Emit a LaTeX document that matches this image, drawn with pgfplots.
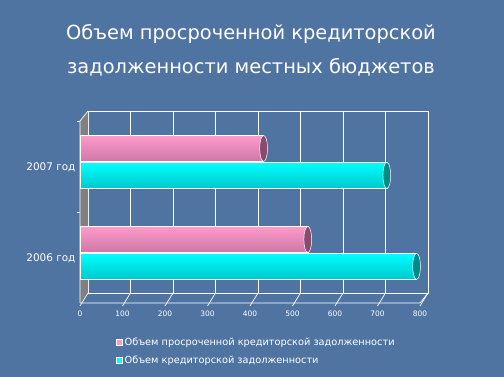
\documentclass[border=0pt]{standalone}
\usepackage{fontspec}
\setmainfont{DejaVu Sans}
\usepackage{pgfplots}
\pgfplotsset{compat=1.18}
\definecolor{bg}{HTML}{5074A2}
\definecolor{pinkT}{HTML}{FF9ACC}
\definecolor{pinkB}{HTML}{CC78A6}
\definecolor{pinkcap}{HTML}{8A4A6E}
\definecolor{cyanT}{HTML}{00FFFF}
\definecolor{cyanB}{HTML}{00C8CC}
\definecolor{cyancap}{HTML}{008A8A}
\pgfplotsset{
  pinkbar/.style={xbar, bar width=26bp, bar shift=13.5bp, draw=white, line width=0.5pt,
    top color=pinkT, bottom color=pinkB, forget plot},
  cyanbar/.style={xbar, bar width=26bp, bar shift=-13.5bp, draw=white, line width=0.5pt,
    top color=cyanT, bottom color=cyanB, forget plot}}
\begin{document}
\begin{tikzpicture}
\fill[bg] (0bp,0bp) rectangle (504bp,377bp);
\useasboundingbox (0bp,0bp) rectangle (504bp,377bp);
\node[text=white, font=\fontsize{19.5}{34}\selectfont, align=center] at (251bp,327bp)
  {Объем просроченной кредиторской\\задолженности местных бюджетов};
% back wall
\begin{axis}[at={(88bp,84bp)}, anchor=south west, scale only axis,
  width=340bp, height=182bp, xmin=0, xmax=800, ymin=0, ymax=1,
  xtick={0,100,...,800}, ytick=\empty, xticklabels={},
  xmajorgrids, grid style={white, line width=0.7pt},
  axis line style={white, line width=0.7pt}, major tick length=0pt]
\addplot[draw=none] coordinates {(0,0)};
\end{axis}
% side wall and floor
\fill[gray] (80bp,74bp) -- (80bp,256bp) -- (88bp,266bp) -- (88bp,84bp) -- cycle;
\draw[white, line width=0.7pt] (80bp,74bp) -- (80bp,256bp) -- (88bp,266bp);
\draw[white, line width=0.7pt] (77bp,256bp) -- (80bp,256bp);
\draw[white, line width=0.7pt] (77bp,165bp) -- (80bp,165bp);
\draw[white, line width=0.7pt] (80bp,74bp) -- (420bp,74bp) -- (428bp,84bp);
\foreach \i in {0,...,8} {
  \draw[white, line width=0.7pt] ({80bp+42.5bp*\i},71bp) -- ({88bp+42.5bp*\i},84bp);
}
% front axis
\begin{axis}[at={(80bp,74bp)}, anchor=south west, scale only axis,
  width=340bp, height=182bp, xmin=0, xmax=800, ymin=-0.55, ymax=1.45,
  clip=false, axis line style={draw=none}, major tick length=0pt,
  /pgf/number format/assume math mode=true,
  xtick={0,100,...,800}, ytick={0,1}, yticklabels={2006 год,2007 год},
  xticklabel style={text=white, font=\fontsize{7.5}{9}\selectfont, yshift=-4bp},
  yticklabel style={text=white, font=\fontsize{10.5}{12}\selectfont, xshift=-1bp, yshift=-5bp},
  legend image code/.code={\draw[#1] (0bp,-3bp) rectangle (6bp,3bp);},
  legend style={at={(0.106,-0.18)}, anchor=north west, draw=none, fill=none,
    text=white, font=\fontsize{9.8}{11}\selectfont, row sep=4.5bp, inner sep=0pt},
  legend cell align=left]
\addplot[pinkbar] coordinates {(536,0)};
\addplot[pinkbar] coordinates {(432,1)};
\addplot[cyanbar] coordinates {(792,0)};
\addplot[cyanbar] coordinates {(722,1)};
\addplot[only marks, mark=*, mark size=13bp,
  mark options={xscale=0.3, fill=pinkcap, draw=white, line width=0.5pt}, forget plot]
  coordinates {(536,0.148) (432,1.148)};
\addplot[only marks, mark=*, mark size=13bp,
  mark options={xscale=0.3, fill=cyancap, draw=white, line width=0.5pt}, forget plot]
  coordinates {(792,-0.148) (722,0.852)};
\addlegendimage{fill=pinkT, draw=white, line width=0.4pt}
\addlegendentry{Объем просроченной кредиторской задолженности}
\addlegendimage{fill=cyanT, draw=white, line width=0.4pt}
\addlegendentry{Объем кредиторской задолженности}
\end{axis}
\end{tikzpicture}
\end{document}
